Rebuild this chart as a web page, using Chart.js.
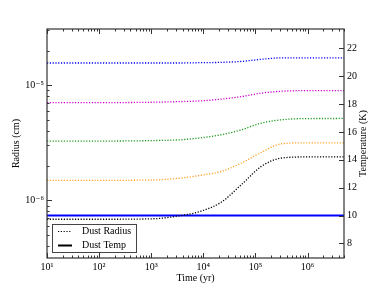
<!DOCTYPE html>
<html>
<head>
<meta charset="utf-8">
<script src="https://cdn.jsdelivr.net/npm/chart.js@4.4.0/dist/chart.umd.min.js"></script>
<style>
  html, body { margin: 0; padding: 0; background: #fff; }
  #wrap { width: 382px; height: 287px; }
</style>
</head>
<body>
<div id="wrap"><canvas id="myChart" width="382" height="287"></canvas></div>
<script>
// tiempos (yr) y radios (cm)
const tiempos = [10, 100, 1000, 3700, 9000, 22000, 54000, 130000, 320000, 1000000, 5000000];
const radioAzul     = [1.56e-5, 1.56e-5, 1.56e-5, 1.56e-5, 1.57e-5, 1.58e-5, 1.61e-5, 1.68e-5, 1.73e-5, 1.73e-5, 1.73e-5];
const radioMagenta  = [7.06e-6, 7.06e-6, 7.11e-6, 7.21e-6, 7.31e-6, 7.57e-6, 7.96e-6, 8.53e-6, 8.87e-6, 8.97e-6, 8.98e-6];
const radioVerde    = [3.27e-6, 3.27e-6, 3.30e-6, 3.36e-6, 3.49e-6, 3.71e-6, 4.10e-6, 4.69e-6, 5.01e-6, 5.13e-6, 5.14e-6];
const radioNaranja  = [1.49e-6, 1.49e-6, 1.50e-6, 1.56e-6, 1.65e-6, 1.78e-6, 2.11e-6, 2.61e-6, 3.10e-6, 3.16e-6, 3.16e-6];
const radioNegro    = [6.84e-7, 6.84e-7, 6.90e-7, 7.36e-7, 8.04e-7, 9.62e-7, 1.37e-6, 1.97e-6, 2.33e-6, 2.38e-6, 2.38e-6];
const temperatura   = [10, 10, 10, 10, 10, 10, 10, 10, 10, 10, 10];

const ticksX = [10, 100, 1000, 10000, 100000, 1000000];
const ticksRadio = [1e-6, 1e-5];
const ticksTemp = [8, 10, 12, 14, 16, 18, 20, 22];
const leyenda = ['Dust Radius', 'Dust Temp'];
const tituloTemp = 'Temperature (K)';

const fuente = "'Liberation Serif', 'DejaVu Serif', serif";
const sup = {'0':'⁰','1':'¹','2':'²','3':'³','4':'⁴','5':'⁵','6':'⁶','7':'⁷','8':'⁸','9':'⁹','-':'⁻'};

function potencia(v){
    let e = Math.round(Math.log10(v));
    return '10' + String(e).split('').map(c => sup[c]).join('');
}

function esPotencia(v){
    let l = Math.log10(v);
    return Math.abs(l - Math.round(l)) < 1e-6;
}

function ticksLog(mayores, min, max){
    let t = [];
    let d0 = Math.floor(Math.log10(min));
    let d1 = Math.ceil(Math.log10(max));
    for (let d = d0; d <= d1; d++) {
        for (let k = 1; k < 10; k++) {
            let v = k * Math.pow(10, d);
            if (v >= min * 0.999 && v <= max * 1.001) t.push({value: v});
        }
    }
    return t;
}

function serie(valores, color, eje, ancho, punteado){
    return {
        data: tiempos.map((t, i) => ({x: t, y: valores[i]})),
        borderColor: color,
        backgroundColor: color,
        borderWidth: ancho,
        borderDash: punteado ? [1.2, 1.6] : [],
        pointRadius: 0,
        cubicInterpolationMode: 'monotone',
        fill: false,
        yAxisID: eje
    };
}

const marco = {
    id: 'marco',
    afterDraw(chart){
        const ctx = chart.ctx;
        const a = chart.chartArea;
        const sx = chart.scales.x, sy = chart.scales.y, st = chart.scales.yT;
        ctx.save();
        ctx.strokeStyle = '#333';
        ctx.lineWidth = 1;
        // ticks eje x (abajo y arriba)
        sx.ticks.forEach(t => {
            let px = Math.round(sx.getPixelForValue(t.value)) + 0.5;
            let largo = esPotencia(t.value) ? 5 : 2.5;
            ctx.beginPath();
            ctx.moveTo(px, a.bottom); ctx.lineTo(px, a.bottom - largo);
            ctx.moveTo(px, a.top); ctx.lineTo(px, a.top + largo);
            ctx.stroke();
        });
        // ticks radio (izquierda)
        sy.ticks.forEach(t => {
            let py = Math.round(sy.getPixelForValue(t.value)) + 0.5;
            let largo = esPotencia(t.value) ? 5 : 2.5;
            ctx.beginPath();
            ctx.moveTo(a.left, py); ctx.lineTo(a.left + largo, py);
            ctx.stroke();
        });
        // ticks temperatura (derecha)
        st.ticks.forEach(t => {
            let py = Math.round(st.getPixelForValue(t.value)) + 0.5;
            ctx.beginPath();
            ctx.moveTo(a.right, py); ctx.lineTo(a.right - 5, py);
            ctx.stroke();
        });
        ctx.lineWidth = 1.2;
        ctx.strokeRect(a.left, a.top, a.right - a.left, a.bottom - a.top);

        // titulo del eje derecho, leido de abajo hacia arriba
        ctx.save();
        ctx.translate(st.right - 19, (a.top + a.bottom) / 2);
        ctx.rotate(-Math.PI / 2);
        ctx.font = '10px ' + fuente;
        ctx.fillStyle = '#000';
        ctx.textAlign = 'center';
        ctx.textBaseline = 'middle';
        ctx.fillText(tituloTemp, 0, 0);
        ctx.restore();

        // leyenda
        let lx = a.left + 5, ly = a.bottom - 34, lw = 84, lh = 28;
        ctx.fillStyle = '#fff';
        ctx.fillRect(lx, ly, lw, lh);
        ctx.strokeStyle = '#444';
        ctx.lineWidth = 1;
        ctx.strokeRect(lx + 0.5, ly + 0.5, lw, lh);
        ctx.font = '10px ' + fuente;
        ctx.textBaseline = 'middle';
        ctx.fillStyle = '#000';
        leyenda.forEach((txt, i) => {
            let y = ly + 7.5 + i * 14;
            ctx.beginPath();
            ctx.strokeStyle = '#000';
            if (i == 0) {
                ctx.setLineDash([1.2, 1.6]);
                ctx.lineWidth = 1.2;
            } else {
                ctx.setLineDash([]);
                ctx.lineWidth = 2;
            }
            ctx.moveTo(lx + 6, y); ctx.lineTo(lx + 20, y);
            ctx.stroke();
            ctx.setLineDash([]);
            ctx.fillText(txt, lx + 30, y);
        });
        ctx.restore();
    }
};

let ctx = document.getElementById('myChart');

let myChart = new Chart(ctx, {
    type: 'line',
    data: {
        datasets: [
            serie(radioAzul, '#0000ff', 'y', 1.3, true),
            serie(radioMagenta, '#cc00cc', 'y', 1.3, true),
            serie(radioVerde, '#1f9a1f', 'y', 1.3, true),
            serie(radioNaranja, '#ffa12a', 'y', 1.3, true),
            serie(radioNegro, '#000000', 'y', 1.3, true),
            serie(temperatura, '#0000ff', 'yT', 2, false)
        ]
    },
    options: {
        responsive: false,
        animation: false,
        layout: { padding: { top: 29, left: 0, right: 0, bottom: 0 } },
        plugins: {
            legend: { display: false },
            tooltip: { enabled: false }
        },
        scales: {
            x: {
                type: 'logarithmic',
                position: 'bottom',
                min: 10,
                max: 5e6,
                grid: { display: false, drawTicks: false },
                border: { display: false },
                afterBuildTicks: s => { s.ticks = ticksLog(ticksX, 10, 5e6); },
                afterFit: s => { s.height = 29; },
                ticks: {
                    autoSkip: false,
                    maxRotation: 0,
                    padding: 3,
                    color: '#000',
                    font: { family: fuente, size: 10 },
                    callback: v => ticksX.includes(v) ? potencia(v) : ''
                },
                title: {
                    display: true,
                    text: 'Time (yr)',
                    color: '#000',
                    font: { family: fuente, size: 10 },
                    padding: { top: 0, bottom: 3 }
                }
            },
            y: {
                type: 'logarithmic',
                position: 'left',
                min: 3.15e-7,
                max: 3.08e-5,
                grid: { display: false, drawTicks: false },
                border: { display: false },
                afterBuildTicks: s => { s.ticks = ticksLog(ticksRadio, 3.15e-7, 3.08e-5); },
                afterFit: s => { s.width = 47; },
                ticks: {
                    autoSkip: false,
                    padding: 3,
                    color: '#000',
                    font: { family: fuente, size: 10 },
                    callback: v => esPotencia(v) ? potencia(v) : ''
                },
                title: {
                    display: true,
                    text: 'Radius (cm)',
                    color: '#000',
                    font: { family: fuente, size: 10 },
                    padding: { top: 10, bottom: 0 }
                }
            },
            yT: {
                type: 'linear',
                position: 'right',
                min: 6.95,
                max: 23.4,
                grid: { display: false, drawTicks: false },
                border: { display: false },
                afterBuildTicks: s => { s.ticks = ticksTemp.map(v => ({value: v})); },
                afterFit: s => { s.width = 38; },
                ticks: {
                    autoSkip: false,
                    padding: 3,
                    color: '#000',
                    font: { family: fuente, size: 10 }
                },
                title: { display: false }
            }
        }
    },
    plugins: [marco]
});
</script>
</body>
</html>
